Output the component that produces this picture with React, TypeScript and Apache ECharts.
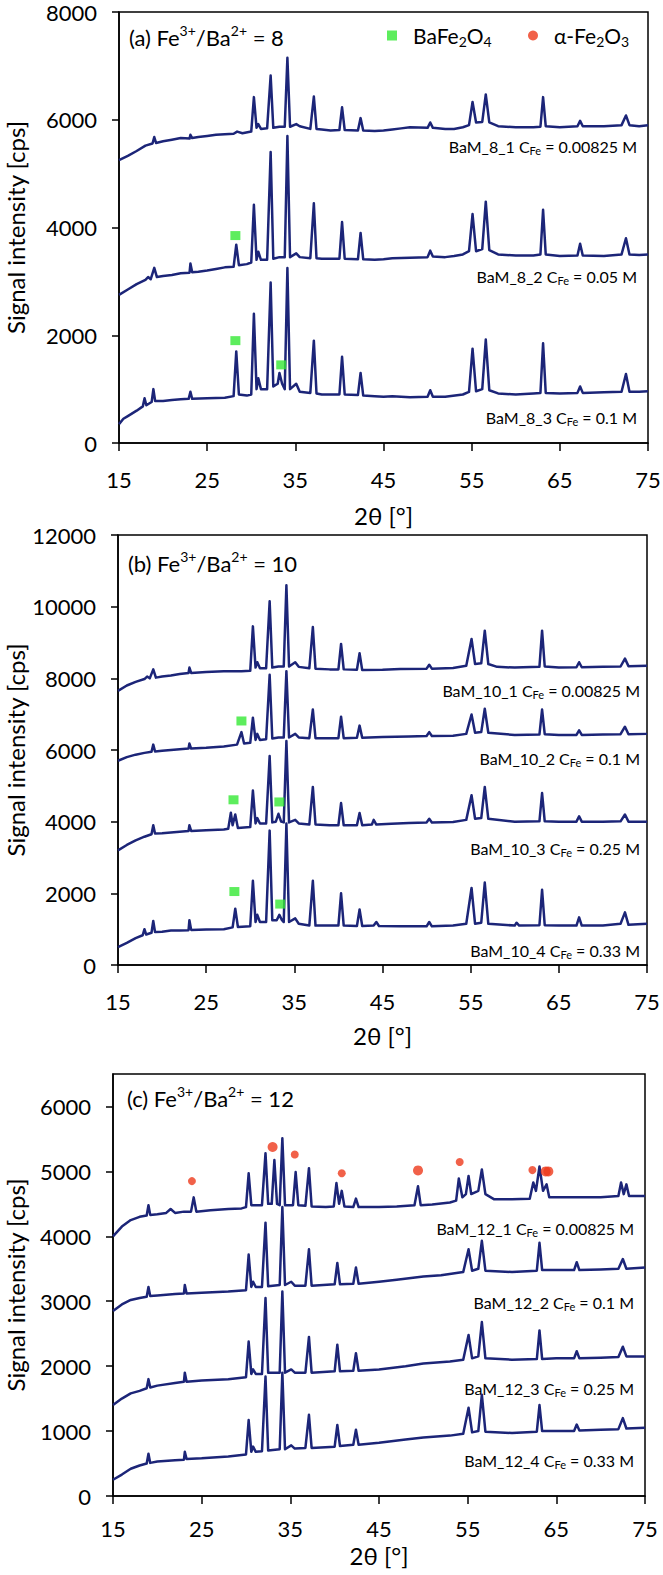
import React, { useEffect, useRef } from "react";
import * as echarts from "echarts";

const FONT = 'Lato, "Open Sans", sans-serif';
const LINE = "#1c2578";
const GREEN = "#35e835";
const RED = "#ee3a1c";

// ---------- tick labels ----------
const twoThetaTicks = [15, 25, 35, 45, 55, 65, 75];
const cpsTicksA = [0, 2000, 4000, 6000, 8000];
const cpsTicksB = [0, 2000, 4000, 6000, 8000, 10000, 12000];
const cpsTicksC = [0, 1000, 2000, 3000, 4000, 5000, 6000];

// ---------- panel (a) Fe3+/Ba2+ = 8 ----------
const bam8_1: number[][] = [[15,5250],[16,5330],[17,5420],[18,5520],[18.8,5560],[19,5680],[19.2,5570],[20,5600],[21,5630],[22,5660],[23,5650],[23.1,5720],[23.3,5660],[24,5680],[25,5700],[26,5720],[27,5730],[28,5740],[28.4,5780],[29,5750],[30,5780],[30.3,6420],[30.6,5850],[30.8,5920],[31.1,5830],[31.8,5840],[32.2,6820],[32.5,5850],[33.2,5870],[33.8,5870],[34.1,7150],[34.4,5870],[35.1,5920],[35.5,5880],[36.7,5830],[37.1,6430],[37.4,5830],[38,5820],[39,5800],[40,5810],[40.3,6230],[40.6,5810],[42.1,5800],[42.4,6030],[42.7,5800],[44,5790],[45,5800],[46,5820],[47,5840],[48,5860],[50,5850],[50.3,5950],[50.6,5850],[52,5830],[53,5830],[54,5860],[54.7,5900],[55.1,6330],[55.5,5950],[56.2,5960],[56.6,6470],[57,5950],[58,5880],[60,5860],[62,5860],[62.8,5870],[63.1,6420],[63.4,5880],[65,5860],[67,5880],[67.3,5980],[67.6,5880],[70,5880],[72,5900],[72.5,6080],[72.9,5900],[74,5880],[75,5900]];
const bam8_2: number[][] = [[15,2750],[16,2850],[17,2950],[18,3030],[18.3,3080],[18.6,3040],[19,3250],[19.3,3080],[20,3100],[21,3120],[22,3150],[23,3160],[23.1,3330],[23.3,3170],[24,3180],[25,3200],[26,3230],[27,3260],[28,3270],[28.3,3680],[28.6,3300],[29.5,3320],[30,3350],[30.3,4420],[30.6,3400],[30.8,3550],[31.1,3400],[31.8,3400],[32.2,5400],[32.5,3420],[33.2,3450],[33.8,3450],[34.1,5700],[34.4,3450],[35.1,3520],[35.5,3450],[36.7,3430],[37.1,4450],[37.4,3430],[38,3420],[39,3420],[40,3420],[40.3,4100],[40.6,3420],[42.1,3410],[42.4,3900],[42.7,3410],[44,3400],[45,3410],[46,3430],[48,3440],[50,3450],[50.3,3570],[50.6,3460],[52,3450],[53,3470],[54,3500],[54.7,3560],[55.1,4250],[55.5,3560],[56.2,3600],[56.6,4480],[57,3580],[58,3500],[60,3480],[62,3480],[62.8,3500],[63.1,4330],[63.4,3500],[65,3470],[67,3480],[67.3,3700],[67.6,3480],[70,3470],[72,3500],[72.5,3800],[72.9,3500],[74,3490],[75,3500]];
const bam8_3: number[][] = [[15,350],[15.5,450],[16,500],[17,600],[17.7,680],[17.9,830],[18.1,700],[18.7,760],[18.9,1000],[19.1,780],[20,780],[21,800],[22,810],[22.9,820],[23.1,950],[23.3,820],[25,830],[27,840],[28,870],[28.3,1700],[28.6,900],[29.5,880],[30,900],[30.3,2400],[30.6,1000],[30.8,1200],[31.1,1000],[31.8,1000],[32.2,2980],[32.5,1050],[33,1100],[33.2,1300],[33.5,1100],[33.8,1000],[34.1,3250],[34.4,1000],[35.1,1100],[35.5,950],[36.7,930],[37.1,1900],[37.4,920],[38,900],[40,900],[40.3,1600],[40.6,900],[42.1,890],[42.4,1300],[42.7,880],[44,870],[45,860],[46,870],[48,850],[50,860],[50.3,980],[50.6,860],[52,860],[54,900],[54.7,950],[55.1,1750],[55.5,960],[56.2,1000],[56.6,1920],[57,980],[58,920],[60,900],[62,920],[62.8,930],[63.1,1850],[63.4,930],[65,920],[67,930],[67.3,1050],[67.6,930],[70,940],[72,950],[72.5,1280],[72.9,950],[74,950],[75,960]];
const bafe2o4A: number[][] = [[28.2,3850],[28.2,1900],[33.4,1450]];

// ---------- panel (b) Fe3+/Ba2+ = 10 ----------
const bam10_1: number[][] = [[15,7650],[16,7800],[17,7900],[18,7980],[18.3,8050],[18.6,8000],[19,8250],[19.3,8020],[20,8050],[21,8080],[22,8120],[23,8150],[23.1,8300],[23.3,8150],[25,8180],[27,8200],[28,8200],[29,8200],[30,8210],[30.3,9450],[30.6,8300],[30.8,8450],[31.1,8280],[31.8,8280],[32.2,10150],[32.5,8300],[33.2,8330],[33.8,8330],[34.1,10600],[34.4,8330],[35.1,8450],[35.5,8320],[36.7,8280],[37.1,9430],[37.4,8270],[39,8250],[40,8250],[40.3,8960],[40.6,8250],[42.1,8240],[42.4,8700],[42.7,8230],[45,8240],[47,8260],[50,8270],[50.3,8380],[50.6,8270],[53,8290],[54.5,8350],[55.1,9100],[55.5,8400],[56.2,8420],[56.6,9330],[57,8400],[58,8320],[60,8300],[62.8,8320],[63.1,9330],[63.4,8330],[65,8300],[67,8310],[67.3,8450],[67.6,8310],[70,8320],[72,8330],[72.5,8550],[72.9,8340],[75,8350]];
const bam10_2: number[][] = [[15,5700],[16,5800],[17,5870],[18,5920],[18.8,5950],[19,6150],[19.2,5960],[20,5980],[22,6020],[23,6040],[23.1,6180],[23.3,6040],[25,6060],[27,6100],[28.5,6150],[29,6500],[29.3,6180],[30,6200],[30.3,6900],[30.6,6280],[30.8,6450],[31.1,6280],[31.8,6300],[32.2,8100],[32.5,6320],[33.2,6350],[33.8,6350],[34.1,8200],[34.4,6350],[35.1,6450],[35.5,6350],[36.7,6330],[37.1,7130],[37.4,6330],[39,6330],[40,6330],[40.3,6930],[40.6,6330],[42.1,6340],[42.4,6680],[42.7,6340],[45,6360],[48,6380],[50,6390],[50.3,6500],[50.6,6390],[53,6400],[54.5,6450],[55.1,6990],[55.5,6480],[56.2,6500],[56.6,7150],[57,6480],[60,6420],[62.8,6430],[63.1,7130],[63.4,6440],[65,6420],[67,6420],[67.3,6550],[67.6,6420],[70,6430],[72,6440],[72.5,6650],[72.9,6440],[75,6450]];
const bam10_3: number[][] = [[15,3200],[16,3350],[17,3480],[18,3580],[18.8,3650],[19,3900],[19.2,3670],[20,3680],[22,3720],[23,3740],[23.1,3900],[23.3,3740],[25,3760],[27,3780],[27.5,3800],[27.8,4250],[28,3900],[28.3,4200],[28.6,3820],[30,3850],[30.3,4870],[30.6,3950],[30.8,4100],[31.1,3950],[31.8,3950],[32.2,5830],[32.5,3980],[32.9,4000],[33.2,4220],[33.5,4000],[33.8,3980],[34.1,6250],[34.4,3980],[35.1,4050],[35.5,3950],[36.7,3920],[37.1,4970],[37.4,3920],[39,3900],[40,3900],[40.3,4520],[40.6,3900],[42.1,3900],[42.4,4240],[42.7,3900],[43.8,3920],[44,4050],[44.3,3920],[46,3940],[48,3960],[50,3980],[50.3,4080],[50.6,3980],[53,3990],[54.5,4050],[55.1,4740],[55.5,4080],[56.2,4100],[56.6,4970],[57,4080],[60,4000],[62.8,4010],[63.1,4800],[63.4,4010],[65,4000],[67,4000],[67.3,4150],[67.6,4000],[70,4000],[72,4010],[72.5,4200],[72.9,4000],[75,4000]];
const bam10_4: number[][] = [[15,500],[16,620],[17,750],[17.8,830],[18,1000],[18.2,850],[18.8,900],[19,1230],[19.2,920],[20,930],[21,960],[22,960],[23,970],[23.1,1250],[23.3,980],[25,990],[27,1000],[28,1050],[28.3,1570],[28.6,1060],[30,1080],[30.3,2350],[30.6,1200],[30.8,1400],[31.1,1200],[31.8,1200],[32.2,3750],[32.5,1250],[33,1250],[33.3,1400],[33.6,1250],[33.8,1200],[34.1,3950],[34.4,1200],[35.1,1300],[35.5,1150],[36.7,1100],[37.1,2350],[37.4,1100],[39,1100],[40,1100],[40.3,2000],[40.6,1100],[42.1,1090],[42.4,1550],[42.7,1090],[44,1100],[44.3,1200],[44.6,1090],[47,1080],[50,1080],[50.3,1200],[50.6,1080],[53,1100],[54.5,1150],[55.1,2150],[55.5,1150],[56.2,1180],[56.6,2300],[57,1150],[60,1100],[60.2,1180],[60.5,1100],[62.8,1110],[63.1,2100],[63.4,1110],[65,1100],[67,1100],[67.3,1330],[67.6,1100],[70,1100],[72,1150],[72.5,1470],[72.9,1120],[75,1150]];
const bafe2o4B: number[][] = [[29.0,6810],[28.1,4610],[33.3,4550],[28.2,2050],[33.4,1700]];

// ---------- panel (c) Fe3+/Ba2+ = 12 ----------
const bam12_1: number[][] = [[15,4000],[16,4150],[17,4250],[18,4300],[18.8,4320],[19,4480],[19.2,4330],[20,4340],[21,4360],[21.5,4420],[22,4360],[23,4380],[23.8,4380],[24.1,4600],[24.4,4380],[26,4400],[28,4420],[29.5,4430],[30,4450],[30.3,4970],[30.6,4480],[31.8,4480],[32.2,5280],[32.5,4500],[32.9,4500],[33.2,5175],[33.5,4500],[33.8,4480],[34.1,5510],[34.4,4480],[35.3,4480],[35.6,4990],[35.9,4480],[36.7,4470],[37.1,5050],[37.4,4460],[39,4450],[39.9,4460],[40.2,4820],[40.5,4500],[40.8,4700],[41.1,4460],[42.1,4450],[42.4,4580],[42.7,4450],[45,4450],[47,4460],[49,4480],[49.4,4770],[49.7,4480],[51,4490],[53,4520],[53.7,4550],[54,4890],[54.4,4600],[54.8,4650],[55.1,4930],[55.4,4650],[56.2,4700],[56.6,5030],[57,4650],[58,4570],[60,4570],[62,4580],[62.4,4830],[62.7,4700],[63.1,5075],[63.5,4700],[63.9,4800],[64.2,4600],[66,4600],[70,4600],[72,4620],[72.3,4830],[72.6,4650],[72.9,4800],[73.2,4620],[75,4620]];
const bam12_2: number[][] = [[15,2850],[16,2950],[17,3020],[18,3050],[18.8,3070],[19,3220],[19.2,3080],[20,3090],[22,3110],[23,3120],[23.1,3250],[23.3,3120],[25,3130],[28,3150],[30,3170],[30.3,3720],[30.6,3220],[30.8,3300],[31.1,3220],[31.8,3220],[32.2,4210],[32.5,3230],[33.8,3250],[34.1,4450],[34.4,3250],[35.1,3300],[35.5,3240],[36.7,3240],[37.1,3800],[37.4,3240],[40,3260],[40.3,3590],[40.6,3260],[42.1,3270],[42.4,3520],[42.7,3270],[45,3300],[47,3330],[50,3380],[52,3400],[54.5,3450],[55.1,3800],[55.5,3470],[56.2,3500],[56.6,3930],[57,3470],[60,3450],[62.8,3470],[63.1,3900],[63.4,3480],[65,3480],[67,3480],[67.3,3600],[67.6,3480],[70,3490],[72,3500],[72.5,3650],[72.9,3500],[75,3520]];
const bam12_3: number[][] = [[15,1400],[16,1500],[17,1580],[18,1620],[18.8,1660],[19,1800],[19.2,1670],[20,1700],[22,1740],[23,1760],[23.1,1900],[23.3,1760],[25,1780],[28,1800],[30,1830],[30.3,2380],[30.6,1880],[30.8,1950],[31.1,1880],[31.8,1880],[32.2,3050],[32.5,1900],[33.8,1900],[34.1,3150],[34.4,1900],[35.1,1950],[35.5,1900],[36.7,1900],[37.1,2450],[37.4,1900],[40,1920],[40.3,2330],[40.6,1920],[42.1,1930],[42.4,2200],[42.7,1930],[45,1950],[48,2000],[50,2040],[53,2070],[54.5,2100],[55.1,2480],[55.5,2120],[56.2,2150],[56.6,2680],[57,2120],[60,2100],[62.8,2110],[63.1,2550],[63.4,2110],[65,2120],[67,2120],[67.3,2230],[67.6,2120],[70,2130],[72,2140],[72.5,2300],[72.9,2150],[75,2150]];
const bam12_4: number[][] = [[15,250],[16,330],[17,420],[18,470],[18.8,500],[19,650],[19.2,510],[20,530],[22,550],[23,560],[23.1,680],[23.3,570],[25,580],[28,610],[30,640],[30.3,1170],[30.6,680],[30.8,760],[31.1,680],[31.8,690],[32.2,1840],[32.5,700],[33.8,720],[34.1,1900],[34.4,720],[35.1,780],[35.5,730],[36.7,740],[37.1,1250],[37.4,740],[40,760],[40.3,1095],[40.6,770],[42.1,790],[42.4,1020],[42.7,790],[45,820],[48,870],[50,900],[53,930],[54.5,960],[55.1,1360],[55.5,980],[56.2,1000],[56.6,1560],[57,990],[60,970],[62.8,990],[63.1,1400],[63.4,1000],[65,1000],[67,1000],[67.3,1100],[67.6,1010],[70,1020],[72,1030],[72.5,1200],[72.9,1040],[75,1050]];
const hematiteBig: number[][] = [[33.0,5375],[49.4,5015],[63.8,5000],[64.1,5000]];
const hematiteSmall: number[][] = [[23.9,4850],[35.5,5260],[40.8,4970],[54.1,5145],[62.3,5020]];

const panelA = [bam8_1, bam8_2, bam8_3];
const panelB = [bam10_1, bam10_2, bam10_3, bam10_4];
const panelC = [bam12_1, bam12_2, bam12_3, bam12_4];

const labelsA = ["8_1", "8_2", "8_3"];
const concA = ["0.00825", "0.05", "0.1"];
const labelsB = ["10_1", "10_2", "10_3", "10_4"];
const concB = ["0.00825", "0.1", "0.25", "0.33"];
const labelsC = ["12_1", "12_2", "12_3", "12_4"];
const concC = ["0.00825", "0.1", "0.25", "0.33"];
const ratios = ["8", "10", "12"];

export default function App() {
  const ref = useRef<HTMLDivElement>(null);
  useEffect(() => {
    document.body.style.margin = "0";
    if (!ref.current) return;
    const chart = echarts.init(ref.current, null, { renderer: "svg" });

    const grids = [
      { left: 119, top: 12, width: 529, height: 431 },
      { left: 118, top: 535, width: 529, height: 430 },
      { left: 113, top: 1074, width: 532, height: 422 },
    ];
    const yCfg = [
      { max: 8000, ticks: cpsTicksA },
      { max: 12000, ticks: cpsTicksB },
      { max: 6500, ticks: cpsTicksC },
    ];
    const xTitleGap = [72, 70, 59];

    const xAxis = grids.map((_, i) => ({
      gridIndex: i,
      type: "value",
      min: 15,
      max: 75,
      axisLine: { onZero: false, lineStyle: { color: "#000", width: 1.5 } },
      axisTick: { length: 8, customValues: twoThetaTicks, lineStyle: { color: "#000", width: 1.5 } },
      axisLabel: {
        customValues: twoThetaTicks,
        formatter: (v: number) => String(v),
        color: "#000",
        fontFamily: FONT,
        fontSize: 22,
        lineHeight: 18,
        margin: i === 2 ? 23 : 27,
      },
      splitLine: { show: false },
    }));
    const yAxis = grids.map((_, i) => ({
      gridIndex: i,
      type: "value",
      min: 0,
      max: yCfg[i].max,
      axisLine: { show: true, lineStyle: { color: "#000", width: 1.5 } },
      axisTick: { show: true, length: 7, customValues: yCfg[i].ticks, lineStyle: { color: "#000", width: 1.5 } },
      axisLabel: {
        customValues: yCfg[i].ticks,
        formatter: (v: number) => String(v),
        color: "#000",
        fontFamily: FONT,
        fontSize: 22,
        lineHeight: 16,
        margin: 22,
      },
      splitLine: { show: false },
    }));

    const lineSeries = (data: number[][], idx: number) => ({
      type: "line",
      xAxisIndex: idx,
      yAxisIndex: idx,
      data,
      symbol: "none",
      showSymbol: false,
      silent: true,
      z: 2,
      lineStyle: { color: LINE, width: 2.5, join: "round" },
    });

    const series: any[] = [];
    panelA.forEach((d) => series.push(lineSeries(d, 0)));
    panelB.forEach((d) => series.push(lineSeries(d, 1)));
    panelC.forEach((d) => series.push(lineSeries(d, 2)));
    series.push({ type: "scatter", name: "BaFe2O4", xAxisIndex: 0, yAxisIndex: 0, data: bafe2o4A, symbol: "rect", symbolSize: [10, 9], itemStyle: { color: GREEN }, z: 5, silent: true });
    series.push({ type: "scatter", name: "BaFe2O4", xAxisIndex: 1, yAxisIndex: 1, data: bafe2o4B, symbol: "rect", symbolSize: [10, 9], itemStyle: { color: GREEN }, z: 5, silent: true });
    series.push({ type: "scatter", name: "α-Fe2O3", xAxisIndex: 2, yAxisIndex: 2, data: hematiteBig, symbol: "circle", symbolSize: 10, itemStyle: { color: RED }, z: 5, silent: true });
    series.push({ type: "scatter", name: "α-Fe2O3", xAxisIndex: 2, yAxisIndex: 2, data: hematiteSmall, symbol: "circle", symbolSize: 8, itemStyle: { color: RED }, z: 5, silent: true });

    const richLegend = {
      f: { fontFamily: FONT, fontSize: 21, color: "#000", lineHeight: 26, padding: [0, 0, 0, 11] },
      n: { fontFamily: FONT, fontSize: 21, color: "#000", lineHeight: 26 },
      s: { fontFamily: FONT, fontSize: 14, color: "#000", lineHeight: 12, verticalAlign: "bottom" },
    };
    const legendFmt = (name: string) =>
      name === "BaFe2O4" ? "{f|BaFe}{s|2}{n|O}{s|4}" : "{f|α-Fe}{s|2}{n|O}{s|3}";

    const graphic: any[] = [];
    const panelLabelPos = [[129, 37], [128, 563], [127, 1098]];
    const sampleLabelPos = [
      [[637, 146], [637, 276], [637, 417]],
      [[640, 690], [640, 758], [640, 848], [640, 950]],
      [[634, 1228], [634, 1302], [634, 1388], [634, 1460]],
    ];
    const labelNames = [labelsA, labelsB, labelsC];
    const concs = [concA, concB, concC];
    const letters = ["a", "b", "c"];
    grids.forEach((g, i) => {
      const cx = g.left + g.width / 2;
      const bottom = g.top + g.height;
      graphic.push({
        type: "text",
        x: 15,
        y: g.top + g.height / 2,
        rotation: Math.PI / 2,
        style: { text: "Signal intensity [cps]", fontFamily: FONT, fontSize: 24, fill: "#000", align: "center", verticalAlign: "middle" },
      });
      graphic.push({
        type: "text",
        x: cx,
        y: bottom + xTitleGap[i],
        style: { text: "2θ [°]", fontFamily: FONT, fontSize: 24, lineHeight: 24, fill: "#000", align: "center", verticalAlign: "middle" },
      });
      graphic.push({
        type: "text",
        x: panelLabelPos[i][0],
        y: panelLabelPos[i][1],
        style: {
          text: `{n|(${letters[i]}) Fe}{p|3+}{n|/Ba}{p|2+}{n| = ${ratios[i]}}`,
          align: "left",
          verticalAlign: "middle",
          rich: {
            n: { fontFamily: FONT, fontSize: 22, fill: "#000", lineHeight: 28 },
            p: { fontFamily: FONT, fontSize: 14, fill: "#000", lineHeight: 18, verticalAlign: "top" },
          },
        },
      });
      labelNames[i].forEach((nm, j) => {
        graphic.push({
          type: "text",
          x: sampleLabelPos[i][j][0],
          y: sampleLabelPos[i][j][1],
          style: {
            text: `{n|BaM_${nm} C}{s|Fe}{n| = ${concs[i][j]} M}`,
            align: "right",
            verticalAlign: "middle",
            rich: {
              n: { fontFamily: FONT, fontSize: 16, fill: "#000", lineHeight: 20 },
              s: { fontFamily: FONT, fontSize: 11, fill: "#000", lineHeight: 10, verticalAlign: "bottom" },
            },
          },
        });
      });
    });

    chart.setOption({
      animation: false,
      backgroundColor: "#fff",
      grid: grids.map((g) => ({
        ...g,
        show: true,
        borderColor: "#000",
        borderWidth: 1.5,
        backgroundColor: "transparent",
        containLabel: false,
        outerBoundsMode: "none",
      })),
      xAxis,
      yAxis,
      legend: [
        {
          data: [{ name: "BaFe2O4", icon: "rect" }],
          left: 382,
          top: 20,
          itemWidth: 10,
          itemHeight: 10,
          selectedMode: false,
          formatter: legendFmt,
          textStyle: { rich: richLegend },
        },
        {
          data: [{ name: "α-Fe2O3", icon: "circle" }],
          left: 523,
          top: 20,
          itemWidth: 10,
          itemHeight: 10,
          selectedMode: false,
          formatter: legendFmt,
          textStyle: { rich: richLegend },
        },
      ],
      graphic,
      series,
    });
    return () => chart.dispose();
  }, []);
  return <div ref={ref} style={{ width: 663, height: 1575 }} />;
}
